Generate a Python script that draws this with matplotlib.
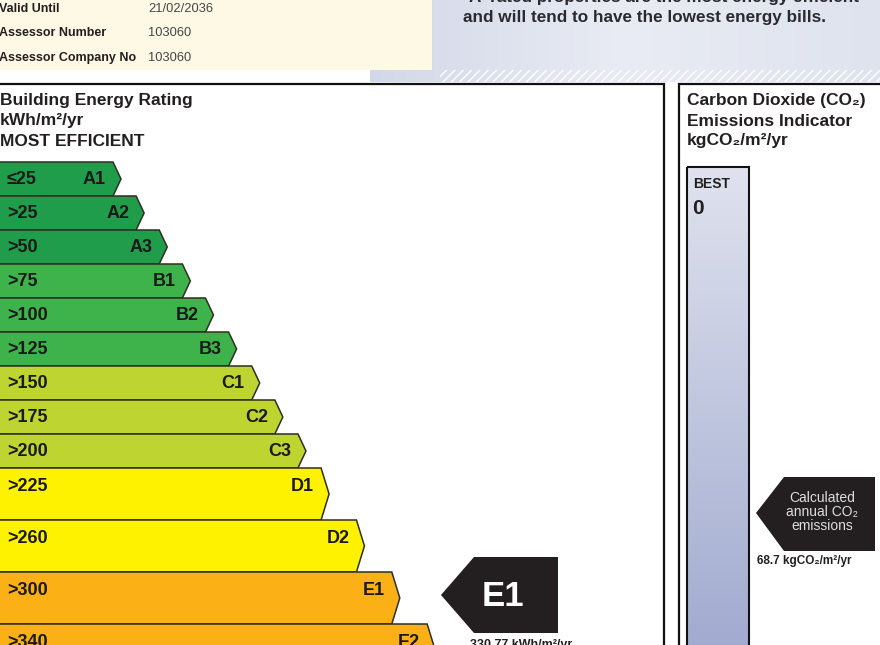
import numpy as np
import matplotlib.pyplot as plt
from matplotlib.colors import LinearSegmentedColormap
from matplotlib.patches import Polygon, Rectangle

band_labels = ["A1", "A2", "A3", "B1", "B2", "B3", "C1", "C2", "C3", "D1", "D2", "E1", "E2"]
band_ranges = ["≤25", ">25", ">50", ">75", ">100", ">125", ">150", ">175", ">200",
               ">225", ">260", ">300", ">340"]
band_colors = ["#1f9d4b", "#1f9d4b", "#1f9d4b", "#3fb34b", "#3fb34b", "#3fb34b",
               "#bdd431", "#bdd431", "#bdd431", "#fff200", "#fff200", "#fbb115", "#fbb115"]
band_tall = [False] * 9 + [True] * 4

header_keys = ["Valid Until", "Assessor Number", "Assessor Company No"]
header_vals = ["21/02/2036", "103060", "103060"]

ber_rating = "E1"
ber_value = "330.77 kWh/m²/yr"
co2_value = "68.7 kgCO₂/m²/yr"

ARIAL = ["Liberation Sans", "DejaVu Sans"]
DARK = "#231f20"

fig = plt.figure(figsize=(8.8, 6.45), dpi=100)
ax = fig.add_axes([0, 0, 1, 1])
ax.set_xlim(0, 880)
ax.set_ylim(645, 0)
ax.axis("off")

# ---- header ----
grad = np.linspace(0, 1, 256).reshape(1, -1)
ax.imshow(grad, extent=[370, 880, 82, 0],
          cmap=LinearSegmentedColormap.from_list("hdr", ["#d3d8e8", "#e9ecf4", "#dfe3ee"]),
          aspect="auto", zorder=0)
ax.add_patch(Rectangle((440, 70), 440, 12, facecolor="none", edgecolor="white",
                       hatch="////", lw=0, zorder=1))
ax.add_patch(Rectangle((0, 0), 432, 70, facecolor="#fef9e5", edgecolor="none", zorder=2))
for i, (k, v) in enumerate(zip(header_keys, header_vals)):
    y = 9 + 24.5 * i
    ax.text(-1, y, k, fontsize=9, fontweight="bold", family=ARIAL, color=DARK,
            va="center", ha="left", zorder=3)
    ax.text(148, y, v, fontsize=9.3, family=ARIAL, color="#444444",
            va="center", ha="left", zorder=3)
ax.text(465, 2, "'A' rated properties are the most energy efficient", fontsize=12.3,
        fontweight="bold", family=ARIAL, color="#2a2a30", va="baseline", ha="left", zorder=3)
ax.text(463, 22, "and will tend to have the lowest energy bills.", fontsize=12.3,
        fontweight="bold", family=ARIAL, color="#2a2a30", va="baseline", ha="left", zorder=3)

# ---- panels ----
ax.add_patch(Rectangle((-5, 84), 669, 600, facecolor="white", edgecolor="#111111", lw=1.6, zorder=2))
ax.add_patch(Rectangle((679, 84), 220, 600, facecolor="white", edgecolor="#111111", lw=1.6, zorder=2))

for y, s in zip([101, 121, 142], ["Building Energy Rating", "kWh/m²/yr", "MOST EFFICIENT"]):
    ax.text(0, y, s, fontsize=12.5, fontweight="bold", family=ARIAL,
            color=DARK, va="center", zorder=3)

# ---- rating bands ----
top = 162
tip = 121
prev_h = 0
for i, (lab, rng, col, tall) in enumerate(zip(band_labels, band_ranges, band_colors, band_tall)):
    h = 52 if tall else 34
    tip += 0.68 * prev_h
    poly = Polygon([(-5, top), (tip - 8, top), (tip, top + h / 2), (tip - 8, top + h), (-5, top + h)],
                   closed=True, facecolor=col, edgecolor="#2e2e22", lw=1.1, zorder=3)
    ax.add_patch(poly)
    ty = top + (17 if not tall else 18.5)
    ax.text(7, ty, rng, fontsize=13, fontweight="bold", family=ARIAL, color="#1a1a1a",
            va="center", ha="left", zorder=4)
    ax.text(tip - 15, ty, lab, fontsize=13, fontweight="bold", family=ARIAL, color="#1a1a1a",
            va="center", ha="right", zorder=4)
    top += h
    prev_h = h

# ---- BER indicator arrow ----
ax.add_patch(Polygon([(441, 595), (474, 557), (558, 557), (558, 633), (474, 633)],
                     closed=True, facecolor="#231f20", edgecolor="none", zorder=4))
ax.text(503, 596, ber_rating, fontsize=25, fontweight="bold", family=ARIAL, color="white",
        va="center", ha="center", zorder=5)
ax.text(470, 639, ber_value, fontsize=9, fontweight="bold", family=ARIAL, color=DARK,
        va="top", ha="left", zorder=5)

# ---- CO2 panel ----
for y, s in zip([101, 121, 141], ["Carbon Dioxide (CO₂)", "Emissions Indicator", "kgCO₂/m²/yr"]):
    ax.text(687, y, s, fontsize=12.5, fontweight="bold", family=ARIAL,
            color=DARK, va="center", zorder=3)

vgrad = np.linspace(0, 1, 256).reshape(-1, 1)
ax.imshow(vgrad, extent=[687, 749, 660, 167], origin="upper",
          cmap=LinearSegmentedColormap.from_list("co2", ["#dfe2ee", "#a0aacf"]),
          aspect="auto", zorder=3)
ax.add_patch(Rectangle((687, 167), 62, 500, facecolor="none", edgecolor="#111111", lw=1.5, zorder=4))
ax.text(693, 184, "BEST", fontsize=10, fontweight="bold", family=ARIAL, color=DARK,
        va="center", zorder=5)
ax.text(692, 209, "0", fontsize=15, fontweight="bold", family=ARIAL, color=DARK,
        va="center", zorder=5)

ax.add_patch(Polygon([(756, 513), (784, 477), (875, 477), (875, 551), (784, 551)],
                     closed=True, facecolor="#231f20", edgecolor="none", zorder=4))
ax.text(822, 512, "Calculated\nannual CO₂\nemissions", fontsize=10, family=ARIAL,
        color="#dedede", va="center", ha="center", linespacing=1.0, zorder=5)
ax.text(757, 561, co2_value, fontsize=8.5, fontweight="bold", family=ARIAL, color=DARK,
        va="center", ha="left", zorder=5)

fig.savefig("out.png", dpi=100)
